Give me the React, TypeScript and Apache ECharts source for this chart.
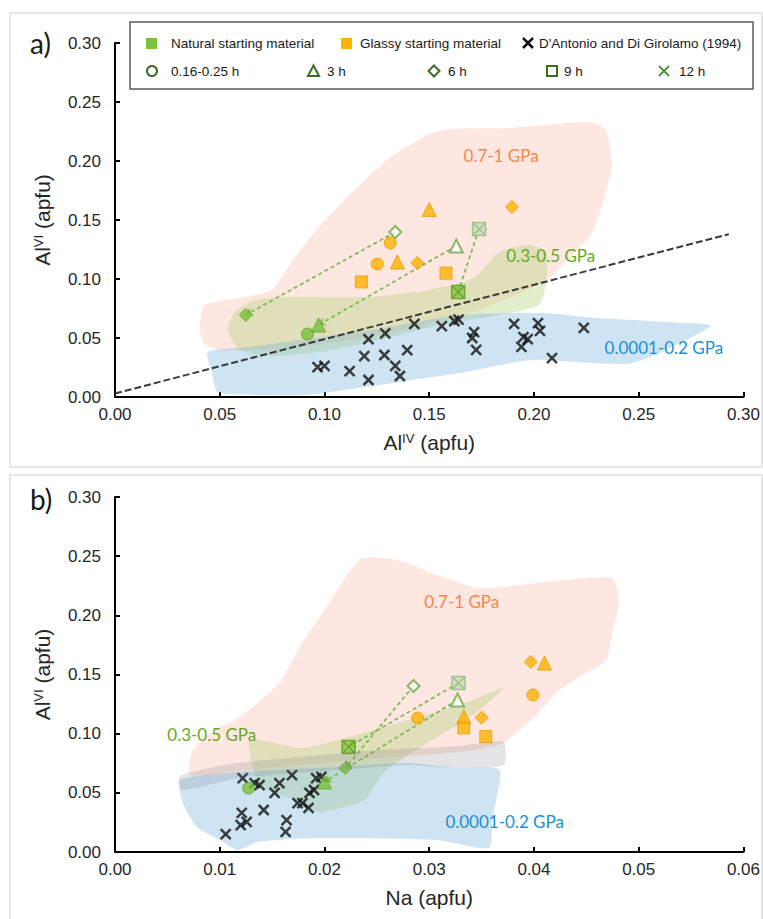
import React, { useEffect, useRef } from "react";
import * as echarts from "echarts";

type P = [number, number];

// ---------------- Panel a : Al(IV) vs Al(VI) ----------------
const aNatCircle: P[] = [[0.0919, 0.0534]];
const aNatTriangle: P[] = [[0.0971, 0.061]];
const aNatDiamond: P[] = [[0.0624, 0.0695]];
const aNatSquareX: P[] = [[0.1638, 0.089]];
const aOpenDiamond: P[] = [[0.1338, 0.1398]];
const aOpenTriangle: P[] = [[0.1629, 0.128]];
const aOpenSquareX: P[] = [[0.1738, 0.1424]];
const aGlassCircle: P[] = [[0.1314, 0.1305], [0.1252, 0.1127]];
const aGlassTriangle: P[] = [[0.15, 0.159], [0.1348, 0.1144]];
const aGlassDiamond: P[] = [[0.1895, 0.161], [0.1443, 0.1136]];
const aGlassSquare: P[] = [[0.1176, 0.0975], [0.158, 0.105]];
const aDAntonio: P[] = [
  [0.1429, 0.0619], [0.156, 0.06], [0.162, 0.0644], [0.164, 0.0655], [0.129, 0.054],
  [0.121, 0.049], [0.1395, 0.0398], [0.119, 0.0347], [0.1286, 0.0356], [0.1338, 0.0263],
  [0.136, 0.0178], [0.121, 0.0144], [0.112, 0.022], [0.0967, 0.0254], [0.1, 0.0263],
  [0.1714, 0.055], [0.1705, 0.05], [0.1724, 0.04], [0.1905, 0.0619], [0.2019, 0.0627],
  [0.2029, 0.056], [0.195, 0.0508], [0.197, 0.049], [0.194, 0.0424], [0.2238, 0.0585],
  [0.2086, 0.033],
];
const aRefLine: P[] = [[0, 0.003], [0.293, 0.138]];
const aArrows: [P, P][] = [
  [aOpenDiamond[0], aNatDiamond[0]],
  [aOpenTriangle[0], aNatTriangle[0]],
  [aOpenSquareX[0], aNatSquareX[0]],
];
const aPink: P[] = [
  [0.0405, 0.061], [0.0429, 0.078], [0.0595, 0.0839], [0.0748, 0.0907], [0.0843, 0.1144],
  [0.0952, 0.1398], [0.111, 0.1695], [0.131, 0.2025], [0.15, 0.2229], [0.1595, 0.2271],
  [0.188, 0.228], [0.2262, 0.233], [0.2343, 0.2263], [0.2371, 0.1966], [0.2333, 0.167],
  [0.2271, 0.1373], [0.2167, 0.1178], [0.2062, 0.0992], [0.1738, 0.0737], [0.1262, 0.0525],
  [0.0833, 0.0415], [0.05, 0.0398], [0.0419, 0.0466],
];
const aGreen: P[] = [
  [0.0538, 0.0568], [0.0571, 0.072], [0.0667, 0.0822], [0.0833, 0.0847], [0.12, 0.0847],
  [0.15, 0.0907], [0.1714, 0.1008], [0.1833, 0.1229], [0.1976, 0.1288], [0.2057, 0.1229],
  [0.2057, 0.0949], [0.2024, 0.078], [0.1833, 0.0695], [0.1548, 0.061], [0.1262, 0.0483],
  [0.0976, 0.0381], [0.0738, 0.0347], [0.0595, 0.0398],
];
const aBlue: P[] = [
  [0.0443, 0.0381], [0.0462, 0.0212], [0.049, 0.0042], [0.069, 0.0017], [0.0914, 0.0017],
  [0.1262, 0.0102], [0.1643, 0.0203], [0.199, 0.0314], [0.2467, 0.0288], [0.2843, 0.0602],
  [0.2629, 0.0636], [0.231, 0.0669], [0.2038, 0.0712], [0.1643, 0.0695], [0.1229, 0.0568],
  [0.0881, 0.0483], [0.0643, 0.0424],
];
const aLabelHigh: P = [0.1843, 0.205];
const aLabelMid: P = [0.208, 0.12];
const aLabelLow: P = [0.262, 0.042];

// ---------------- Panel b : Na vs Al(VI) ----------------
const bNatCircle: P[] = [[0.01276, 0.054]];
const bNatTriangle: P[] = [[0.02, 0.0592]];
const bNatDiamond: P[] = [[0.022, 0.071]];
const bNatSquareX: P[] = [[0.0223, 0.0887]];
const bOpenDiamond: P[] = [[0.0285, 0.1403]];
const bOpenTriangle: P[] = [[0.0327, 0.1285]];
const bOpenSquareX: P[] = [[0.0328, 0.1428]];
const bGlassCircle: P[] = [[0.0399, 0.1327], [0.0289, 0.1132]];
const bGlassTriangle: P[] = [[0.041, 0.1597], [0.0333, 0.1144]];
const bGlassDiamond: P[] = [[0.0397, 0.1606], [0.035, 0.1136]];
const bGlassSquare: P[] = [[0.0333, 0.105], [0.0354, 0.0975]];
const bDAntonio: P[] = [
  [0.01219, 0.0625], [0.01333, 0.0583], [0.0138, 0.0566], [0.0157, 0.0583], [0.0169, 0.065],
  [0.0192, 0.0625], [0.0197, 0.0634], [0.01524, 0.0499], [0.01743, 0.0414], [0.0179, 0.0414],
  [0.01848, 0.0372], [0.01857, 0.0499], [0.019, 0.0524], [0.0142, 0.0355], [0.0121, 0.033],
  [0.01257, 0.0254], [0.012, 0.0228], [0.01638, 0.027], [0.01629, 0.017], [0.01057, 0.0152],
];
const bArrows: [P, P][] = [
  [bOpenDiamond[0], bNatDiamond[0]],
  [bOpenTriangle[0], bNatTriangle[0]],
  [bOpenSquareX[0], bNatSquareX[0]],
];
const bPink: P[] = [
  [0.00714, 0.0651], [0.00743, 0.0862], [0.00952, 0.1031], [0.0119, 0.1141], [0.0157, 0.1428],
  [0.0176, 0.1732], [0.0202, 0.207], [0.0233, 0.2468], [0.0259, 0.2485], [0.0284, 0.2425],
  [0.031, 0.2332], [0.0348, 0.2231], [0.0411, 0.2282], [0.0474, 0.2316], [0.0481, 0.213],
  [0.0474, 0.1817], [0.0469, 0.1623], [0.0443, 0.1479], [0.0421, 0.1344], [0.0405, 0.1183],
  [0.0381, 0.0989], [0.0367, 0.0904], [0.0329, 0.0845], [0.0252, 0.0794], [0.0176, 0.0735],
  [0.011, 0.0676],
];
const bGreen: P[] = [
  [0.01286, 0.0947], [0.0179, 0.0879], [0.0246, 0.1031], [0.0329, 0.1242], [0.0371, 0.1386],
  [0.0338, 0.1132], [0.029, 0.0879], [0.0257, 0.0676], [0.0238, 0.0439], [0.0195, 0.0338],
  [0.0171, 0.0439], [0.0138, 0.0566],
];
const bBlue: P[] = [
  [0.00619, 0.0608], [0.00648, 0.0414], [0.00781, 0.0211], [0.01, 0.0101], [0.01171, 0.0017],
  [0.01362, 0.0085], [0.01914, 0.0118], [0.03076, 0.0101], [0.0357, 0.0034], [0.036, 0.027],
  [0.0367, 0.0693], [0.0329, 0.071], [0.0278, 0.0752], [0.0214, 0.0718], [0.0119, 0.0676],
];
const bGrey: P[] = [
  [0.0062, 0.0642], [0.011, 0.0744], [0.0176, 0.0803], [0.0252, 0.0862], [0.0329, 0.0896],
  [0.0371, 0.093], [0.0371, 0.0735], [0.0329, 0.071], [0.0278, 0.0735], [0.0214, 0.0693],
  [0.0119, 0.0625], [0.0064, 0.0524],
];
const bLabelHigh: P = [0.0331, 0.2113];
const bLabelMid: P = [0.00924, 0.0989];
const bLabelLow: P = [0.0372, 0.0254];

// ---------------- styles ----------------
const FONT = "'Liberation Sans', Arial, sans-serif";
const LBL = "Lato, 'Open Sans', sans-serif";
const ORANGE = { color: "#ffb300", borderColor: "#e69a00", borderWidth: 1 };
const GREEN = { color: "#7cc13a", borderColor: "#62a32a", borderWidth: 1 };
const OPEN = { color: "#ffffff", borderColor: "#6aaa4a", borderWidth: 2 };
const XMARK = "path://M0 0L10 10M10 0L0 10";
const SQX = "path://M0 0H10V10H0Z M0 0L10 10M10 0L0 10";

function sc(idx: number, data: P[], symbol: string, size: number, itemStyle: any, z = 6) {
  return { type: "scatter", xAxisIndex: idx, yAxisIndex: idx, data, symbol, symbolSize: size, itemStyle, z, silent: true };
}
function region(idx: number, pts: P[], fill: string, z = 1) {
  return {
    type: "custom", xAxisIndex: idx, yAxisIndex: idx, silent: true, z, data: [[0, 0]],
    renderItem: (_p: any, api: any) => ({
      type: "polygon",
      shape: { points: pts.map((p) => api.coord(p)), smooth: 0.2 },
      style: { fill, stroke: "none" },
    }),
  };
}
function regionText(idx: number, pos: P, text: string, color: string) {
  return {
    type: "custom", xAxisIndex: idx, yAxisIndex: idx, silent: true, z: 8, data: [pos],
    renderItem: (_p: any, api: any) => {
      const c = api.coord([api.value(0), api.value(1)]);
      return { type: "text", x: c[0], y: c[1], style: { text, fill: color, fontSize: 17, fontFamily: LBL, align: "center", verticalAlign: "middle" } };
    },
  };
}
function arrows(idx: number, pairs: [P, P][]) {
  return {
    type: "lines", coordinateSystem: "cartesian2d", xAxisIndex: idx, yAxisIndex: idx, silent: true, z: 4,
    symbol: ["none", "arrow"], symbolSize: 7,
    lineStyle: { color: "#7dbb5a", width: 1.8, type: [4, 3], opacity: 1 },
    data: pairs.map(([f, t]) => ({ coords: [f, t] })),
  };
}
function markers(idx: number, d: any) {
  return [
    sc(idx, d.dAnt, XMARK, 10, { color: "rgba(0,0,0,0)", borderColor: "#111", borderWidth: 2.5 }, 5),
    sc(idx, d.natC, "circle", 12, GREEN),
    sc(idx, d.natT, "triangle", 14, GREEN),
    sc(idx, d.natD, "diamond", 13, GREEN),
    sc(idx, d.natS, SQX, 13, { color: "#8dc63f", borderColor: "#5b9a2c", borderWidth: 1.5 }),
    sc(idx, d.openD, "diamond", 12, OPEN),
    sc(idx, d.openT, "triangle", 13, OPEN),
    sc(idx, d.openS, SQX, 13, { color: "#c9dcbc", borderColor: "#92ba7e", borderWidth: 1.5 }),
    sc(idx, d.gC, "circle", 12, ORANGE),
    sc(idx, d.gT, "triangle", 14, ORANGE),
    sc(idx, d.gD, "diamond", 13, ORANGE),
    sc(idx, d.gS, "rect", 12, ORANGE),
  ];
}

function xAxis(idx: number, max: number, interval: number, name: string, rich?: any) {
  return {
    gridIndex: idx, type: "value", min: 0, max, interval,
    axisLine: { show: true, lineStyle: { color: "#000", width: 2 } },
    axisTick: { show: true, inside: true, length: 5, lineStyle: { color: "#000", width: 2 } },
    splitLine: { show: false },
    axisLabel: { formatter: (v: number) => v.toFixed(2), color: "#262626", fontSize: 17, fontFamily: FONT, margin: 9 },
    name, nameLocation: "middle", nameGap: 35,
    nameTextStyle: { color: "#262626", fontSize: 21, fontFamily: FONT, rich },
  };
}
function yAxis(idx: number, name: string, rich: any) {
  return {
    gridIndex: idx, type: "value", min: 0, max: 0.3, interval: 0.05,
    axisLine: { show: true, lineStyle: { color: "#000", width: 2 } },
    axisTick: { show: true, inside: true, length: 5, lineStyle: { color: "#000", width: 2 } },
    splitLine: { show: false },
    axisLabel: { formatter: (v: number) => v.toFixed(2), color: "#262626", fontSize: 17, fontFamily: FONT, margin: 14 },
    name, nameLocation: "middle", nameGap: 62,
    nameTextStyle: { color: "#262626", fontSize: 21, fontFamily: FONT, rich },
  };
}

const RICH = {
  n: { fontSize: 21, fontFamily: FONT, color: "#262626" },
  s: { fontSize: 13, fontFamily: FONT, color: "#262626", verticalAlign: "top" },
};

function legendGraphics() {
  const T = (x: number, y: number, text: string) => ({
    type: "text", x, y, style: { text, fill: "#1a1a1a", fontSize: 13.5, fontFamily: FONT, verticalAlign: "middle" },
  });
  const DG = "#3b6e22";
  const xm = (cx: number, cy: number, color: string, w: number) => [
    { type: "line", shape: { x1: cx - 5, y1: cy - 5, x2: cx + 5, y2: cy + 5 }, style: { stroke: color, lineWidth: w } },
    { type: "line", shape: { x1: cx + 5, y1: cy - 5, x2: cx - 5, y2: cy + 5 }, style: { stroke: color, lineWidth: w } },
  ];
  return [
    { type: "rect", shape: { x: 130, y: 22, width: 623, height: 67 }, style: { fill: "#fff", stroke: "#595959", lineWidth: 1.5 } },
    { type: "rect", shape: { x: 146, y: 38, width: 11, height: 11 }, style: { fill: "#7cc13a" } },
    T(171, 43, "Natural starting material"),
    { type: "rect", shape: { x: 341, y: 38, width: 11, height: 11 }, style: { fill: "#ffb300" } },
    T(360, 43, "Glassy starting material"),
    ...xm(528, 43, "#111", 2.5),
    T(539, 43, "D'Antonio and Di Girolamo (1994)"),
    { type: "circle", shape: { cx: 152, cy: 71, r: 5 }, style: { fill: "none", stroke: DG, lineWidth: 2 } },
    T(171, 71, "0.16-0.25 h"),
    { type: "polygon", shape: { points: [[313.5, 65.5], [319, 76], [308, 76]] }, style: { fill: "none", stroke: DG, lineWidth: 2 } },
    T(327, 71, "3 h"),
    { type: "polygon", shape: { points: [[434, 65.5], [439.5, 71], [434, 76.5], [428.5, 71]] }, style: { fill: "none", stroke: DG, lineWidth: 2 } },
    T(448, 71, "6 h"),
    { type: "rect", shape: { x: 547, y: 66, width: 10, height: 10 }, style: { fill: "none", stroke: DG, lineWidth: 2 } },
    T(564, 71, "9 h"),
    ...xm(664, 71, "#4f8a35", 1.8),
    T(679, 71, "12 h"),
  ];
}

export default function App() {
  const ref = useRef<HTMLDivElement>(null);
  useEffect(() => {
    if (!ref.current) return;
    const chart = echarts.init(ref.current, undefined, { renderer: "svg" });
    const dataA = { dAnt: aDAntonio, natC: aNatCircle, natT: aNatTriangle, natD: aNatDiamond, natS: aNatSquareX, openD: aOpenDiamond, openT: aOpenTriangle, openS: aOpenSquareX, gC: aGlassCircle, gT: aGlassTriangle, gD: aGlassDiamond, gS: aGlassSquare };
    const dataB = { dAnt: bDAntonio, natC: bNatCircle, natT: bNatTriangle, natD: bNatDiamond, natS: bNatSquareX, openD: bOpenDiamond, openT: bOpenTriangle, openS: bOpenSquareX, gC: bGlassCircle, gT: bGlassTriangle, gD: bGlassDiamond, gS: bGlassSquare };
    const PINK = "rgba(248,180,160,0.32)";
    const GRN = "rgba(180,210,120,0.38)";
    const BLU = "rgba(120,180,220,0.36)";
    chart.setOption({
      animation: false,
      grid: [
        { left: 115, top: 43, width: 630, height: 354 },
        { left: 115, top: 497, width: 630, height: 355 },
      ],
      xAxis: [
        xAxis(0, 0.3, 0.05, "{n|Al}{s|IV}{n| (apfu)}", RICH),
        xAxis(1, 0.06, 0.01, "Na (apfu)"),
      ],
      yAxis: [yAxis(0, "{n|Al}{s|VI}{n| (apfu)}", RICH), yAxis(1, "{n|Al}{s|VI}{n| (apfu)}", RICH)],
      series: [
        region(0, aPink, PINK),
        region(0, aGreen, GRN),
        region(0, aBlue, BLU),
        {
          type: "line", xAxisIndex: 0, yAxisIndex: 0, data: aRefLine, symbol: "none", silent: true, z: 3,
          lineStyle: { color: "#3a3a3a", width: 2, type: [7, 3] },
        },
        arrows(0, aArrows),
        ...markers(0, dataA),
        regionText(0, aLabelHigh, "0.7-1 GPa", "#f4874b"),
        regionText(0, aLabelMid, "0.3-0.5 GPa", "#62a81e"),
        regionText(0, aLabelLow, "0.0001-0.2 GPa", "#1a8fd6"),

        region(1, bPink, PINK),
        region(1, bGreen, GRN),
        region(1, bBlue, BLU),
        arrows(1, bArrows),
        ...markers(1, dataB),
        region(1, bGrey, "rgba(120,120,130,0.2)", 7),
        regionText(1, bLabelHigh, "0.7-1 GPa", "#f4874b"),
        regionText(1, bLabelMid, "0.3-0.5 GPa", "#62a81e"),
        regionText(1, bLabelLow, "0.0001-0.2 GPa", "#1a8fd6"),
      ],
      graphic: [
        { type: "rect", z: -10, shape: { x: 10, y: 13, width: 752, height: 454 }, style: { fill: "none", stroke: "#dedede", lineWidth: 1.5 } },
        { type: "rect", z: -10, shape: { x: 10, y: 475, width: 752, height: 460 }, style: { fill: "none", stroke: "#dedede", lineWidth: 1.5 } },
        { type: "text", x: 30, y: 43, style: { text: "a)", fill: "#1a1a1a", fontSize: 28, fontFamily: LBL, verticalAlign: "middle" } },
        { type: "text", x: 30, y: 499, style: { text: "b)", fill: "#1a1a1a", fontSize: 28, fontFamily: LBL, verticalAlign: "middle" } },
        ...legendGraphics(),
      ],
    });
    return () => chart.dispose();
  }, []);
  return <div ref={ref} style={{ position: "absolute", left: 0, top: 0, width: 763, height: 919 }} />;
}
